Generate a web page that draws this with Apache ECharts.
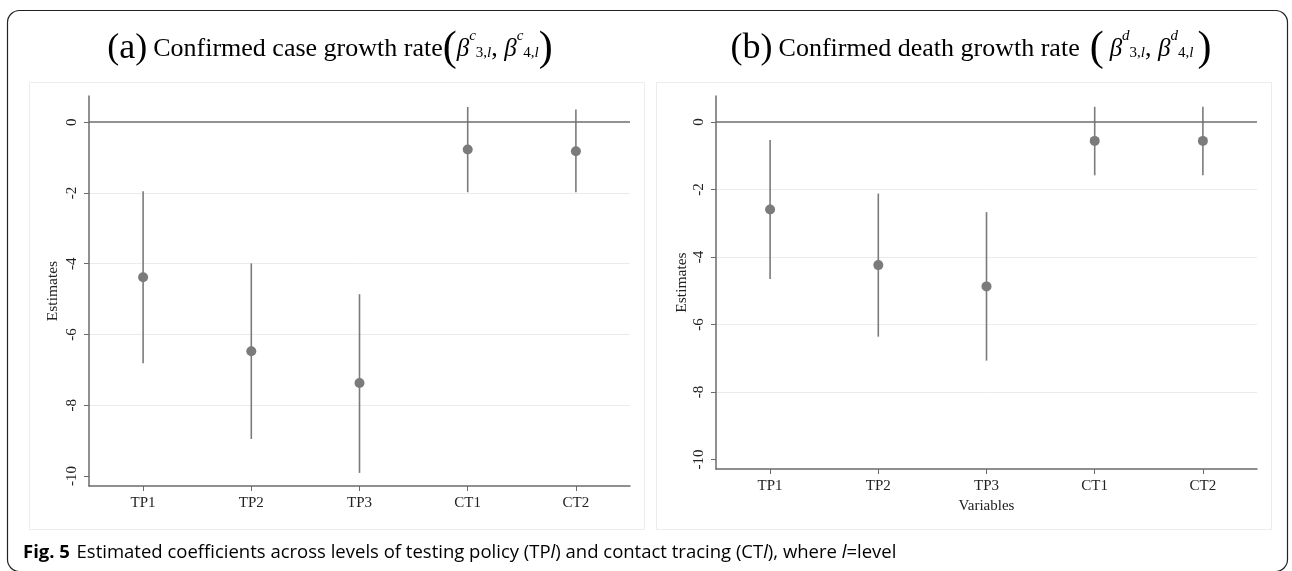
<!DOCTYPE html>
<html><head><meta charset="utf-8">
<script src="https://cdn.jsdelivr.net/npm/echarts@6/dist/echarts.min.js"></script>
<style>html,body{margin:0;padding:0;background:#fff}#c{width:1292px;height:571px}</style>
</head><body><div id="c"></div>
<script>
// ---- data ----
const categories = ['TP1', 'TP2', 'TP3', 'CT1', 'CT2'];
const yTicks = [-10, -8, -6, -4, -2, 0];
const caseEst  = [-4.38, -6.47, -7.37, -0.77, -0.82];
const caseLow  = [-6.81, -8.95, -9.91, -1.98, -1.98];
const caseHigh = [-1.95, -3.99, -4.86, 0.43, 0.36];
const deathEst  = [-2.59, -4.24, -4.87, -0.56, -0.56];
const deathLow  = [-4.65, -6.36, -7.07, -1.58, -1.58];
const deathHigh = [-0.53, -2.12, -2.67, 0.45, 0.45];

const SERIF = 'Liberation Serif';
const MARK = '#7b7b7b';
const AXIS = '#6b6b6b';

function ciData(low, high) { return low.map((v, i) => [i, v, high[i]]); }

function renderCI(params, api) {
  const x = api.value(0);
  const a = api.coord([x, api.value(1)]);
  const b = api.coord([x, api.value(2)]);
  return { type: 'line', shape: { x1: a[0], y1: a[1], x2: b[0], y2: b[1] },
           style: { stroke: MARK, lineWidth: 1.6 } };
}

function xAxisCfg(gridIndex, name) {
  const o = {
    type: 'category', gridIndex, data: categories, boundaryGap: true,
    axisLine: { show: true, onZero: false, lineStyle: { color: AXIS, width: 1.5 } },
    axisTick: { show: true, alignWithLabel: true, length: 5, lineStyle: { color: AXIS, width: 1 } },
    axisLabel: { fontFamily: SERIF, fontSize: 15, color: '#222', margin: 10 },
    splitLine: { show: false }
  };
  if (name) {
    o.name = name; o.nameLocation = 'middle'; o.nameGap = 27;
    o.nameTextStyle = { fontFamily: SERIF, fontSize: 15, color: '#222' };
  }
  return o;
}

function yAxisCfg(gridIndex, min, max, gap) {
  return {
    type: 'value', gridIndex, min, max, splitNumber: 5,
    name: 'Estimates', nameLocation: 'middle', nameGap: gap,
    nameTextStyle: { fontFamily: SERIF, fontSize: 15.5, color: '#222' },
    axisLine: { show: true, onZero: false, lineStyle: { color: AXIS, width: 1.5 } },
    axisTick: { show: true, length: 5, customValues: yTicks, lineStyle: { color: AXIS, width: 1 } },
    axisLabel: { rotate: 90, fontFamily: SERIF, fontSize: 15, color: '#222', margin: 9,
                 showMinLabel: false, showMaxLabel: false },
    splitLine: { show: true, showMinLine: false, showMaxLine: false,
                 lineStyle: { color: '#ebebeb', width: 1 } }
  };
}

function zeroLine() {
  return { silent: true, symbol: 'none', label: { show: false },
           lineStyle: { color: '#6e6e6e', width: 1.5, type: 'solid' },
           emphasis: { disabled: true }, data: [{ yAxis: 0 }] };
}

const titleRich = {
  big:  { fontFamily: SERIF, fontSize: 36, color: '#111', lineHeight: 40, padding: [0, 6, 0, 0] },
  t:    { fontFamily: SERIF, fontSize: 26, color: '#111', lineHeight: 40 },
  p:    { fontFamily: SERIF, fontSize: 42, color: '#111', lineHeight: 40 },
  pw:   { fontFamily: SERIF, fontSize: 42, color: '#111', lineHeight: 40, padding: [0, 0, 0, 10] },
  pr:   { fontFamily: SERIF, fontSize: 42, color: '#111', lineHeight: 40, padding: [0, 0, 0, 4] },
  b:    { fontFamily: SERIF, fontSize: 25, fontStyle: 'italic', color: '#111', lineHeight: 40 },
  bw:   { fontFamily: SERIF, fontSize: 25, fontStyle: 'italic', color: '#111', lineHeight: 40, padding: [0, 0, 0, 6] },
  sup:  { fontFamily: SERIF, fontSize: 15, fontStyle: 'italic', color: '#111', lineHeight: 20, verticalAlign: 'top' },
  sub:  { fontFamily: SERIF, fontSize: 15, color: '#111', lineHeight: 40, padding: [8, 0, 0, 0] },
  subi: { fontFamily: SERIF, fontSize: 15, fontStyle: 'italic', color: '#111', lineHeight: 40, padding: [8, 0, 0, 0] }
};

const titleA = '{big|(a)}{t|Confirmed case growth rate}{p|(}{b|β}{sup|c}{sub|3,}{subi|l}{t|, }{b|β}{sup|c}{sub|4,}{subi|l}{p|)}';
const titleB = '{big|(b)}{t|Confirmed death growth rate}{pw|(}{bw|β}{sup|d}{sub|3,}{subi|l}{t|, }{b|β}{sup|d}{sub|4,}{subi|l}{pr|)}';
const caption = '{bd|Fig. 5}  {n|Estimated coefficients across levels of testing policy (TP}{i|l}{n|) and contact tracing (CT}{i|l}{n|), where }{i|l}{n|=level}';

const chart = echarts.init(document.getElementById('c'), null, { renderer: 'canvas' });
chart.setOption({
  animation: false,
  backgroundColor: '#fff',
  grid: [
    { left: 89, top: 96, width: 541, height: 390, containLabel: false },
    { left: 716, top: 96, width: 541, height: 373, containLabel: false }
  ],
  xAxis: [xAxisCfg(0), xAxisCfg(1, 'Variables')],
  yAxis: [yAxisCfg(0, -10.28, 0.74, 28), yAxisCfg(1, -10.28, 0.77, 26)],
  series: [
    { type: 'custom', xAxisIndex: 0, yAxisIndex: 0, renderItem: renderCI, data: ciData(caseLow, caseHigh),
      z: 3, silent: true, markLine: zeroLine() },
    { type: 'scatter', xAxisIndex: 0, yAxisIndex: 0, data: caseEst, symbolSize: 10,
      itemStyle: { color: MARK, opacity: 1 }, z: 4, silent: true },
    { type: 'custom', xAxisIndex: 1, yAxisIndex: 1, renderItem: renderCI, data: ciData(deathLow, deathHigh),
      z: 3, silent: true, markLine: zeroLine() },
    { type: 'scatter', xAxisIndex: 1, yAxisIndex: 1, data: deathEst, symbolSize: 10,
      itemStyle: { color: MARK, opacity: 1 }, z: 4, silent: true }
  ],
  graphic: [
    { type: 'rect', silent: true, z: -1,
      shape: { x: 7.5, y: 10.5, width: 1280, height: 561, r: 12 },
      style: { fill: 'none', stroke: '#222', lineWidth: 1.2 } },
    { type: 'rect', silent: true, z: -1,
      shape: { x: 29.5, y: 82.5, width: 615, height: 447 },
      style: { fill: 'none', stroke: '#ececec', lineWidth: 1 } },
    { type: 'rect', silent: true, z: -1,
      shape: { x: 656.5, y: 82.5, width: 615, height: 447 },
      style: { fill: 'none', stroke: '#ececec', lineWidth: 1 } },
    { type: 'text', silent: true, x: 330, y: 49,
      style: { text: titleA, rich: titleRich, align: 'center', verticalAlign: 'middle',
               textAlign: 'center', textVerticalAlign: 'middle' } },
    { type: 'text', silent: true, x: 971, y: 49,
      style: { text: titleB, rich: titleRich, align: 'center', verticalAlign: 'middle',
               textAlign: 'center', textVerticalAlign: 'middle' } },
    { type: 'text', silent: true, x: 23, y: 553,
      style: { text: caption, align: 'left', verticalAlign: 'middle', textAlign: 'left', textVerticalAlign: 'middle',
               rich: {
                 bd: { fontFamily: 'Open Sans', fontSize: 18.5, fontWeight: 'bold', color: '#111' },
                 n:  { fontFamily: 'Open Sans', fontSize: 18.5, color: '#111' },
                 i:  { fontFamily: 'Open Sans', fontSize: 18.5, fontStyle: 'italic', color: '#111' }
               } } }
  ]
});
</script>
</body></html>
